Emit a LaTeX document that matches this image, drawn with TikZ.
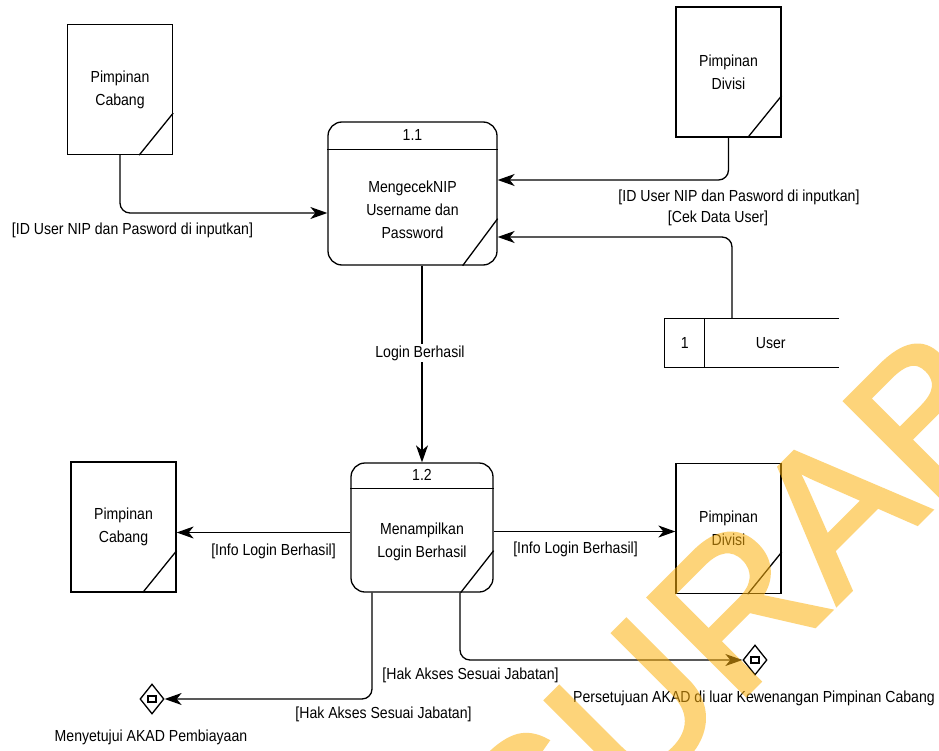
\documentclass[tikz,border=0pt]{standalone}
\usepackage{fontspec}
\setmainfont{Liberation Sans}[FakeStretch=0.88]
\newfontfamily\wmfont{Liberation Sans}[FakeBold=2]
\usetikzlibrary{shapes.geometric,arrows.meta,calc}
\definecolor{wmorange}{RGB}{253,177,13}

\begin{document}
\begin{tikzpicture}[x=1pt,y=-1pt,
  every node/.style={font=\fontsize{16}{23}\selectfont, inner sep=0pt, align=center},
  line/.style={line width=1.3pt, black},
  flow/.style={line, -{Stealth[length=17pt,width=12pt,inset=5pt]}, rounded corners=10pt},
  entity/.style={draw, line width=1.3pt, minimum width=105pt, minimum height=130pt},
  procbox/.style={draw, line width=1.3pt, rounded corners=14pt},
  endstate/.style={diamond, draw, line width=1.3pt, minimum width=24pt, minimum height=30pt}
]
\fill[white] (0,0) rectangle (939,751);
\useasboundingbox (0,0) rectangle (939,751);

% external entities
\node[entity] (pc1) at (120,89.5) {Pimpinan\\Cabang};
\node[entity] (pd1) at (728.5,72) {Pimpinan\\Divisi};
\node[entity] (pc2) at (123.5,527) {Pimpinan\\Cabang};
\node[entity] (pd2) at (728.5,528.5) {Pimpinan\\Divisi};
\foreach \e in {pc1,pd1,pc2,pd2}
  \draw[line] ($(\e.south east)+(0,-42)$) -- ($(\e.south east)+(-34,0)$);

% process 1.1
\node[procbox, minimum width=169pt, minimum height=143pt] (p11) at (412.5,193.5) {};
\draw[line] ($(p11.north west)+(0,28)$) -- ($(p11.north east)+(0,28)$);
\node (p11id) at ($(p11.north)+(0,14)$) {1.1};
\node (p11txt) at ($(p11.center)+(0,16)$) {MengecekNIP\\Username dan\\Password};
\draw[line] ($(p11.south east)+(0,-47)$) -- ($(p11.south east)+(-35,0)$);

% process 1.2
\node[procbox, minimum width=142pt, minimum height=129pt] (p12) at (422,527.5) {};
\draw[line] ($(p12.north west)+(0,26)$) -- ($(p12.north east)+(0,26)$);
\node (p12id) at ($(p12.north)+(0,13)$) {1.2};
\node (p12txt) at ($(p12.center)+(0,14)$) {Menampilkan\\Login Berhasil};
\draw[line] ($(p12.south east)+(0,-42)$) -- ($(p12.south east)+(-33,0)$);

% data store
\node[minimum width=174pt, minimum height=48pt] (ds) at (752,343) {};
\draw[line] (ds.north east) -- (ds.north west) -- (ds.south west) -- (ds.south east);
\draw[line] ($(ds.north west)+(40,0)$) -- ($(ds.south west)+(40,0)$);
\node (dsid) at ($(ds.west)+(20,0)$) {1};
\node (dsname) at ($(ds.west)+(106,0)$) {User};

% end states
\node[endstate] (dmL) at (152,699) {};
\node[endstate] (dmR) at (755,660) {};
\foreach \d in {dmL,dmR}
  \draw[line] ($(\d.center)+(-4,-3)$) rectangle ($(\d.center)+(4,3)$);

% flows
\coordinate (in1) at ($(p11.west)+(0,19.5)$);
\draw[flow] (pc1.south) |- (in1);
\coordinate (in2) at ($(p11.east)+(0,-13.5)$);
\draw[flow] (pd1.south) |- (in2);
\coordinate (dstop) at ($(ds.north)+(-20,0)$);
\coordinate (in3) at ($(p11.east)+(0,43.5)$);
\draw[flow] (dstop) |- (in3);
\draw[flow] (p11.south -| p12.north) -- (p12.north);
\coordinate (p12l) at ($(p12.west)+(0,5)$);
\draw[flow] (p12l) -- (p12l -| pc2.east);
\coordinate (p12r) at ($(p12.east)+(0,4)$);
\draw[flow] (p12r) -- (p12r -| pd2.west);
\coordinate (p12bl) at ($(p12.south)+(-50,0)$);
\draw[flow] (p12bl) |- (dmL.east);
\coordinate (p12br) at ($(p12.south)+(38,0)$);
\draw[flow] (p12br) |- (dmR.west);

% flow labels
\node (l1) at (132.5,230) {[ID User NIP dan Pasword di inputkan]};
\node (l2) at (739,197) {[ID User NIP dan Pasword di inputkan]};
\node (l3) at (718,218) {[Cek Data User]};
\node[fill=white, inner sep=2pt] (l4) at (420,353) {Login Berhasil};
\node (l5) at (273.5,551) {[Info Login Berhasil]};
\node (l6) at (575.5,549) {[Info Login Berhasil]};
\node (l7) at (470.5,675) {[Hak Akses Sesuai Jabatan]};
\node (l8) at (383.5,714) {[Hak Akses Sesuai Jabatan]};
\node (l9) at (151,737) {Menyetujui AKAD Pembiayaan};
\node (l10) at (754,698) {Persetujuan AKAD di luar Kewenangan Pimpinan Cabang};

% watermark, composited as one group so the emboldened outline does not double up
\begin{scope}[transparency group, opacity=0.55]
  \clip (0,0) rectangle (939,751);
  \node[rotate=45, anchor=base west, text=wmorange,
        font=\wmfont\fontsize{200}{200}\selectfont] (wm) at (538,903) {SURABAYA};
\end{scope}
\end{tikzpicture}
\end{document}
